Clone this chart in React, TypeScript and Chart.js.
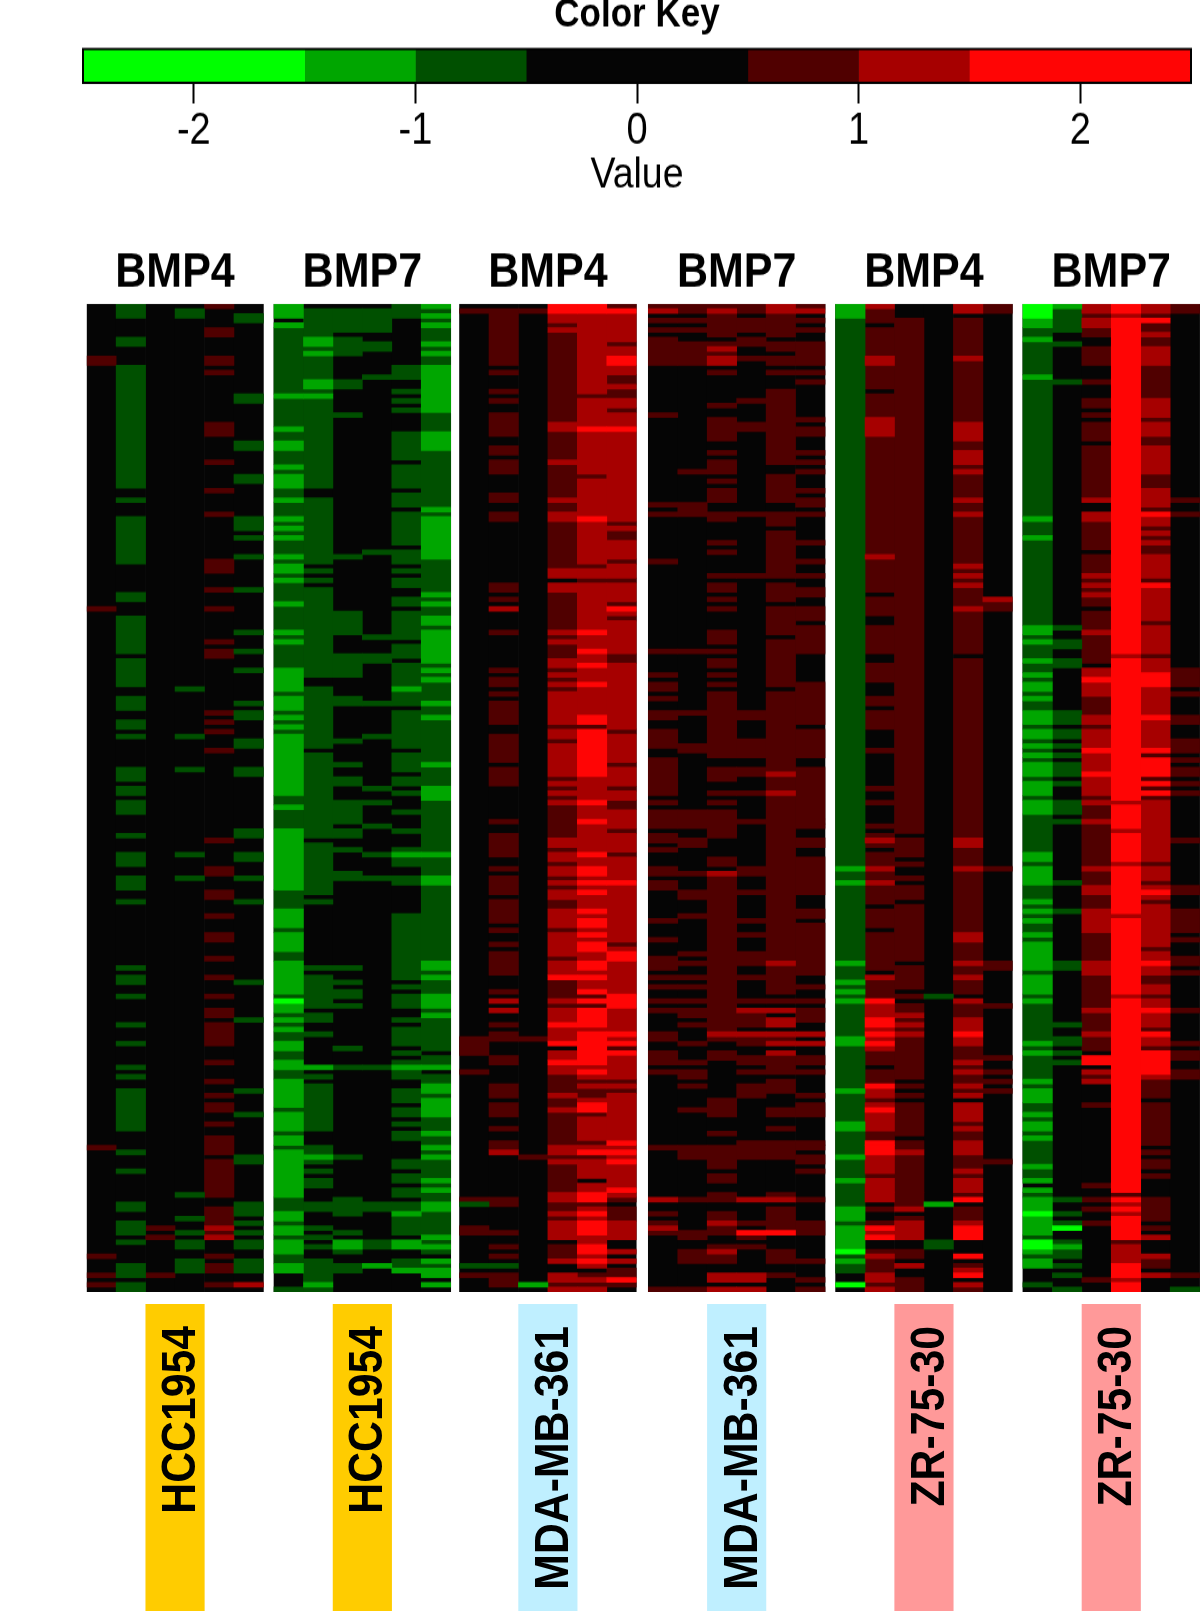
import React, { useEffect, useRef } from "react";
import { Chart, registerables } from "chart.js";

Chart.register(...registerables);

// ---- colour key ----
const keyEdges = [-2.5, -1.5, -1, -0.5, 0.5, 1, 1.5, 2.5];
const keyColors = ["#00FF00", "#00A600", "#005000", "#050505", "#500000", "#A60000", "#FF0505"];
const keyTicks = [-2, -1, 0, 1, 2];
// a level is the index distance from the black bin of the colour key
const levels = [-3, -2, -1, 0, 1, 2, 3];

// ---- panel labels ----
const treatments = ["BMP4", "BMP7", "BMP4", "BMP7", "BMP4", "BMP7"];
const cellLines = ["HCC1954", "HCC1954", "MDA-MB-361", "MDA-MB-361", "ZR-75-30", "ZR-75-30"];
const cellLineColors = ["#FFCC00", "#FFCC00", "#BFEFFF", "#BFEFFF", "#FF9999", "#FF9999"];
const ROWS = 209;

// ---- heat map: each column lists start row, end row, level (rows not listed are black) ----
const hccBmp4 = [
  [11,13,1, 64,65,1, 178,179,1, 201,202,1, 205,206,1, 207,208,1],
  [0,3,-1, 7,9,-1, 13,39,-1, 41,42,-1, 45,55,-1, 61,63,-1, 66,74,-1, 75,81,-1, 83,86,-1, 88,90,-1, 91,92,-1, 98,101,-1, 102,104,-1, 105,108,-1, 112,113,-1, 116,119,-1, 121,124,-1, 126,127,-1, 140,141,-1, 142,144,-1, 146,147,-1, 152,153,-1, 156,157,-1, 161,162,-1, 163,164,-1, 166,175,-1, 179,180,-1, 183,184,-1, 190,192,-1, 194,197,-1, 198,199,-1, 203,206,-1, 207,209,-1],
  [195,196,1, 197,198,1, 205,206,1],
  [1,3,-1, 81,82,-1, 91,92,-1, 98,99,-1, 116,117,-1, 121,122,-1, 188,189,-1, 193,194,-1, 196,197,-1, 198,200,-1, 202,205,-1],
  [0,1,1, 5,7,1, 11,13,1, 14,15,1, 25,28,1, 33,34,1, 39,40,1, 44,45,1, 54,57,1, 60,61,1, 64,65,1, 71,72,1, 73,75,1, 86,87,1, 88,89,1, 90,91,1, 94,95,1, 113,114,1, 119,121,1, 124,126,1, 129,130,1, 133,135,1, 138,139,1, 142,143,1, 146,147,1, 149,151,1, 152,157,1, 160,161,1, 164,165,1, 167,168,1, 169,171,1, 173,174,1, 176,180,1, 181,189,1, 191,195,1, 195,196,2, 196,197,1, 197,198,2, 201,202,1, 203,205,1, 207,208,1],
  [2,4,-1, 19,21,-1, 29,31,-1, 36,38,-1, 45,48,-1, 49,50,-1, 53,54,-1, 60,61,-1, 69,70,-1, 73,74,-1, 77,78,-1, 84,85,-1, 86,88,-1, 92,94,-1, 98,100,-1, 111,113,-1, 116,118,-1, 121,122,-1, 126,127,-1, 143,144,-1, 151,152,-1, 166,167,-1, 171,172,-1, 180,182,-1, 190,193,-1, 194,195,-1, 196,197,-1, 198,200,-1, 202,205,-1, 207,208,2],
];
const hccBmp7 = [
  [0,3,-2, 4,5,-2, 5,19,-1, 19,20,-2, 20,26,-1, 26,27,-2, 27,29,-1, 29,31,-2, 31,34,-1, 34,35,-2, 35,36,-1, 36,39,-2, 39,41,-1, 41,42,-2, 42,45,-1, 45,46,-2, 46,47,-1, 47,48,-2, 48,49,-1, 49,50,-2, 50,53,-1, 53,54,-2, 54,55,-1, 55,57,-2, 57,58,-1, 58,59,-2, 59,63,-1, 63,64,-2, 64,69,-1, 69,70,-2, 70,71,-1, 71,72,-2, 72,77,-1, 77,82,-2, 82,83,-1, 83,86,-2, 86,87,-1, 87,88,-2, 88,89,-1, 89,90,-2, 90,91,-1, 91,104,-2, 104,106,-1, 106,107,-2, 107,111,-1, 111,124,-2, 124,128,-1, 128,132,-2, 132,133,-1, 133,137,-2, 137,139,-1, 139,146,-2, 146,147,-1, 147,148,-3, 148,150,-2, 150,151,-1, 151,152,-2, 152,153,-1, 153,154,-2, 154,156,-1, 156,158,-2, 158,160,-1, 160,162,-2, 162,164,-1, 164,170,-2, 170,171,-1, 171,175,-2, 175,176,-1, 176,178,-2, 178,179,-1, 179,189,-2, 189,192,-1, 192,194,-2, 194,195,-1, 195,197,-2, 197,198,-1, 198,201,-2, 201,203,-1, 203,205,-2, 208,209,-1],
  [1,7,-1, 7,9,-2, 9,10,-1, 10,11,-2, 11,16,-1, 16,18,-2, 18,19,-1, 19,20,-2, 20,39,-1, 41,55,-1, 56,57,-1, 58,59,-1, 60,79,-1, 81,94,-1, 95,113,-1, 114,125,-1, 126,127,-1, 140,141,-1, 142,149,-1, 150,152,-1, 154,155,-1, 161,162,-2, 163,164,-1, 165,175,-1, 178,180,-1, 180,181,-2, 181,182,-1, 183,184,-1, 185,187,-1, 190,192,-1, 195,196,-1, 197,198,-1, 199,200,-1, 202,207,-1, 207,208,-2, 208,209,-1],
  [1,6,-1, 7,11,-1, 16,18,-1, 23,24,-1, 53,54,-1, 65,70,-1, 74,79,-1, 83,85,-1, 92,93,-1, 97,98,-1, 100,102,-1, 105,110,-1, 111,113,-1, 115,116,-1, 120,122,-1, 140,141,-1, 143,144,-1, 145,147,-1, 148,149,-1, 157,158,-1, 161,162,-1, 180,181,-1, 189,193,-1, 196,197,-1, 198,200,-2, 200,201,-1, 203,205,-1],
  [1,6,-1, 8,10,-1, 15,16,-1, 52,53,-1, 70,71,-1, 74,76,-1, 84,85,-1, 91,92,-1, 102,103,-1, 105,106,-1, 110,111,-1, 116,117,-1, 121,122,-1, 161,162,-1, 190,192,-1, 198,200,-1, 203,204,-2],
  [0,3,-1, 13,16,-1, 18,19,-1, 20,21,-1, 22,23,-1, 27,33,-1, 34,39,-1, 40,43,-1, 44,51,-1, 52,55,-1, 56,57,-1, 58,60,-1, 62,64,-1, 65,71,-1, 72,75,-1, 76,81,-1, 81,82,-2, 82,85,-1, 86,94,-1, 95,99,-1, 100,102,-1, 103,104,-1, 107,108,-1, 111,112,-1, 115,116,-1, 116,117,-2, 117,119,-1, 121,123,-1, 129,143,-1, 144,145,-1, 146,149,-1, 151,152,-1, 153,157,-1, 158,159,-1, 160,161,-1, 161,162,-2, 162,164,-1, 166,169,-1, 170,172,-1, 173,174,-1, 175,177,-1, 181,183,-1, 184,186,-1, 187,189,-1, 190,192,-1, 192,193,-2, 193,197,-1, 198,200,-2, 202,204,-1, 204,205,-2],
  [0,1,-2, 1,2,-1, 2,3,-2, 3,4,-1, 4,5,-2, 5,8,-1, 8,9,-2, 9,10,-1, 10,11,-2, 11,13,-1, 13,23,-2, 23,27,-1, 27,31,-2, 31,43,-1, 43,44,-2, 44,45,-1, 45,54,-2, 54,61,-1, 61,62,-2, 62,63,-1, 63,64,-2, 64,66,-1, 66,68,-2, 68,69,-1, 69,76,-2, 76,77,-1, 77,78,-2, 78,79,-1, 79,80,-2, 80,84,-1, 84,85,-2, 85,87,-1, 87,88,-2, 88,97,-1, 97,98,-2, 98,102,-1, 102,105,-2, 105,116,-1, 116,117,-2, 117,121,-1, 121,123,-2, 123,139,-1, 139,141,-2, 141,142,-1, 142,143,-2, 143,146,-1, 146,149,-2, 149,150,-1, 150,151,-2, 151,158,-1, 159,161,-1, 161,162,-2, 163,165,-1, 165,167,-2, 167,168,-1, 168,172,-2, 172,175,-1, 175,176,-2, 176,178,-1, 178,179,-2, 179,180,-1, 180,181,-2, 181,185,-1, 185,186,-2, 186,187,-1, 187,188,-2, 188,190,-1, 190,192,-2, 192,197,-1, 197,198,-2, 198,199,-1, 199,200,-2, 200,201,-1, 202,203,-2, 203,204,-1, 204,206,-2, 207,208,-2],
];
const mdaBmp4 = [
  [1,2,1, 155,157,1, 157,159,1, 162,163,1, 189,190,1, 190,191,-1, 195,197,1, 203,204,-1, 205,206,1],
  [1,13,1, 14,15,1, 18,19,1, 20,21,1, 23,28,1, 30,32,1, 33,36,1, 40,42,1, 44,46,1, 59,61,1, 62,63,1, 64,65,2, 69,70,1, 77,78,1, 79,81,1, 82,83,1, 84,89,1, 91,97,1, 98,102,1, 109,110,1, 112,117,1, 119,120,1, 121,125,1, 126,131,1, 132,133,1, 135,136,1, 137,142,1, 145,146,1, 147,148,2, 149,150,2, 152,153,1, 154,156,1, 159,161,1, 165,168,1, 169,172,1, 174,175,1, 177,179,1, 179,180,2, 189,191,1, 196,197,1, 199,200,1, 201,202,1, 203,204,-1, 205,208,1],
  [1,2,1, 155,156,1, 180,181,1, 207,208,-2],
  [0,2,3, 2,4,2, 4,5,1, 5,6,2, 6,25,1, 25,27,2, 27,33,1, 33,34,2, 34,41,1, 41,42,2, 42,44,1, 44,46,2, 46,56,1, 56,58,2, 59,61,2, 61,69,1, 69,70,2, 70,71,1, 71,72,2, 72,75,1, 75,77,2, 77,78,1, 78,79,2, 79,80,1, 80,81,2, 81,82,1, 82,89,2, 89,90,1, 90,92,2, 92,93,1, 93,100,2, 100,101,1, 101,102,2, 102,103,1, 103,104,2, 104,105,1, 105,106,2, 106,113,1, 113,115,2, 115,116,1, 116,118,2, 118,119,1, 119,121,2, 121,122,1, 122,123,2, 123,124,1, 124,126,2, 126,128,1, 128,132,2, 132,133,1, 133,138,2, 138,139,1, 139,142,2, 142,143,3, 143,147,1, 147,148,2, 148,149,1, 149,152,2, 152,153,3, 153,156,2, 156,157,3, 158,160,2, 160,161,3, 161,163,2, 163,167,1, 167,168,2, 168,170,1, 170,171,2, 171,178,1, 178,180,2, 180,181,1, 181,182,2, 182,188,1, 188,190,2, 190,192,1, 192,193,2, 193,194,1, 194,198,2, 199,202,1, 202,203,2, 205,207,2, 207,208,1, 208,209,2],
  [0,2,3, 2,19,2, 19,20,1, 20,26,2, 26,27,3, 27,36,2, 36,37,1, 37,45,2, 45,46,3, 46,55,2, 55,56,1, 56,58,2, 58,59,1, 59,69,2, 69,70,3, 70,73,2, 73,74,3, 74,76,2, 76,77,3, 77,80,2, 80,81,3, 81,87,2, 87,89,3, 89,90,1, 90,100,3, 100,105,2, 105,106,3, 106,109,2, 109,110,3, 110,116,2, 116,117,3, 117,119,2, 119,121,3, 121,122,2, 122,123,3, 123,124,2, 124,125,3, 125,128,2, 128,129,3, 129,130,2, 130,132,3, 132,133,2, 133,134,3, 134,135,2, 135,137,3, 137,139,2, 139,141,3, 141,142,2, 142,143,3, 143,145,2, 145,146,3, 146,147,1, 147,148,3, 148,149,1, 149,153,3, 153,154,2, 154,161,3, 161,162,2, 162,163,3, 163,164,2, 164,165,1, 165,166,2, 166,168,1, 168,169,2, 169,171,3, 171,172,1, 172,177,2, 177,178,1, 178,179,2, 179,180,3, 180,181,1, 181,185,2, 186,188,2, 188,190,3, 190,191,1, 191,192,2, 192,193,3, 193,194,2, 194,197,3, 197,199,2, 199,201,3, 201,202,2, 202,203,3, 203,204,2, 205,206,1, 206,207,2, 207,208,1, 208,209,2],
  [0,1,1, 1,2,3, 2,8,2, 8,9,1, 9,11,2, 11,13,3, 13,15,2, 15,17,1, 17,18,2, 18,20,1, 20,22,2, 22,23,1, 23,26,2, 26,27,3, 27,46,2, 46,47,1, 47,48,2, 48,50,1, 50,54,2, 54,55,1, 55,58,2, 58,59,1, 59,63,2, 63,64,1, 64,65,3, 65,66,2, 66,67,1, 67,74,2, 74,76,1, 76,90,2, 90,91,1, 91,97,2, 97,98,1, 98,102,2, 102,103,1, 103,105,2, 105,107,1, 107,111,2, 111,112,1, 112,116,2, 116,117,1, 117,122,2, 122,123,3, 123,135,2, 135,136,1, 136,137,2, 137,139,3, 139,146,2, 146,149,3, 149,154,2, 154,155,3, 155,156,2, 156,157,3, 157,158,1, 158,159,3, 159,164,2, 164,165,1, 165,166,2, 166,167,1, 167,177,2, 177,178,3, 178,179,2, 179,180,3, 180,181,2, 181,182,3, 182,187,2, 187,188,3, 188,189,2, 189,190,1, 191,194,1, 194,198,2, 200,201,2, 202,203,2, 204,206,1, 206,207,3, 207,208,1],
];
const mdaBmp7 = [
  [0,1,1, 1,2,2, 3,4,1, 5,6,1, 7,13,1, 23,24,1, 42,43,1, 44,45,1, 54,55,1, 73,74,1, 78,79,1, 80,82,1, 83,84,1, 86,88,1, 90,94,1, 96,104,1, 105,106,1, 107,111,1, 112,114,1, 115,116,1, 119,121,1, 122,124,1, 130,131,1, 134,135,1, 138,141,1, 142,143,1, 144,145,1, 147,148,1, 149,150,1, 154,156,1, 158,161,1, 162,163,1, 178,179,1, 189,190,2, 192,193,1, 194,195,1, 195,196,2, 196,197,1, 208,209,1],
  [0,2,1, 3,4,1, 5,6,1, 8,13,1, 35,36,1, 42,45,1, 73,74,1, 86,87,1, 93,95,1, 107,111,1, 113,115,1, 120,121,1, 124,126,1, 129,130,1, 137,138,1, 139,140,1, 142,143,1, 144,145,1, 147,148,1, 149,151,1, 152,153,1, 156,157,1, 160,161,1, 162,164,1, 165,166,1, 170,171,1, 178,181,1, 189,190,1, 196,198,1, 200,203,1, 208,209,1],
  [0,1,1, 1,2,2, 2,7,1, 8,9,1, 9,10,2, 10,11,1, 11,13,2, 14,15,1, 21,22,1, 24,29,1, 31,32,1, 33,36,1, 37,38,1, 39,42,1, 44,46,1, 50,51,1, 52,53,1, 57,58,1, 59,61,1, 62,63,1, 64,65,1, 69,72,1, 73,74,1, 75,77,1, 78,79,1, 80,81,1, 82,96,1, 98,101,1, 103,104,1, 105,106,1, 107,113,1, 117,119,1, 120,121,2, 121,154,1, 154,155,2, 155,156,1, 158,160,1, 168,172,1, 175,176,1, 178,183,1, 184,186,1, 188,190,1, 192,194,1, 194,195,2, 195,197,1, 199,200,1, 200,201,2, 201,203,1, 205,207,2, 208,209,2],
  [0,2,1, 3,6,1, 7,9,1, 11,12,1, 20,21,1, 25,27,1, 44,45,1, 57,58,1, 86,88,1, 92,96,1, 98,100,1, 103,104,1, 109,110,1, 119,121,1, 124,125,1, 130,131,1, 133,134,1, 137,140,1, 142,143,1, 147,148,1, 149,150,2, 150,153,1, 154,155,2, 155,157,1, 159,161,1, 162,163,1, 165,168,1, 177,181,1, 189,190,2, 194,195,1, 196,197,3, 197,198,1, 199,200,1, 205,207,2, 208,209,2],
  [0,2,2, 2,7,1, 8,10,1, 11,13,1, 14,15,1, 18,34,1, 36,42,1, 44,47,1, 48,58,1, 59,63,1, 64,70,1, 71,81,1, 82,99,1, 99,100,2, 100,103,1, 103,104,2, 104,139,1, 139,140,2, 140,146,1, 147,148,1, 149,150,2, 151,153,2, 154,155,2, 155,156,1, 156,157,2, 158,159,2, 159,163,1, 164,167,1, 170,172,1, 174,175,1, 177,178,1, 178,181,1, 188,189,1, 189,190,2, 191,196,1, 196,197,3, 200,203,1, 205,206,1],
  [0,1,1, 1,2,2, 3,4,1, 5,6,1, 8,13,1, 14,15,1, 16,17,1, 24,25,1, 26,28,1, 31,32,1, 33,34,1, 35,36,1, 39,40,1, 41,43,1, 44,45,1, 50,51,1, 54,55,1, 57,58,1, 60,62,1, 64,67,1, 68,74,1, 80,89,1, 90,96,1, 98,109,1, 109,110,1, 110,111,1, 113,115,1, 117,125,1, 128,130,1, 131,142,1, 144,145,1, 147,148,1, 149,152,1, 154,155,2, 156,157,2, 159,161,1, 162,163,1, 167,168,1, 169,172,1, 177,178,1, 178,179,1, 180,182,1, 183,184,1, 189,190,1, 194,197,1, 202,203,1, 206,207,1, 208,209,1],
];
const zrBmp4 = [
  [0,3,-2, 3,119,-1, 119,120,-2, 120,122,-1, 122,123,-2, 123,139,-1, 139,140,-2, 140,143,-1, 143,144,-2, 144,145,-1, 145,146,-2, 146,147,-1, 147,148,-2, 148,155,-1, 155,157,-2, 157,166,-1, 166,167,-2, 167,173,-1, 173,175,-2, 175,180,-1, 180,181,-2, 181,185,-1, 185,186,-2, 186,191,-1, 191,194,-2, 194,195,-1, 195,200,-2, 200,201,-3, 201,202,-1, 202,203,-2, 203,205,-1, 207,208,-3],
  [0,1,2, 1,4,1, 5,11,1, 11,13,2, 13,18,1, 19,24,1, 24,28,2, 28,53,1, 53,54,2, 54,61,1, 62,66,1, 68,74,1, 76,80,1, 83,85,1, 86,90,1, 94,95,1, 102,103,1, 105,106,1, 110,111,1, 112,113,1, 113,114,2, 114,115,1, 116,119,1, 119,120,2, 120,122,1, 122,123,2, 123,127,1, 128,132,1, 133,141,1, 142,143,2, 143,147,1, 147,148,3, 148,151,2, 151,153,3, 153,154,2, 154,155,3, 155,156,2, 156,157,3, 157,158,2, 158,161,1, 162,165,1, 165,166,3, 166,168,2, 168,169,1, 169,170,2, 170,171,3, 171,175,2, 175,177,1, 177,178,3, 178,180,3, 180,184,2, 184,185,1, 185,188,2, 188,190,2, 191,192,1, 194,195,1, 195,196,3, 196,197,2, 197,198,3, 200,201,1, 201,202,2, 202,205,1, 205,207,2, 207,208,1, 208,209,2],
  [3,112,1, 113,117,1, 118,119,1, 121,122,1, 123,126,1, 127,139,1, 140,145,1, 146,147,1, 148,150,1, 150,151,2, 151,152,1, 152,153,2, 153,154,1, 154,155,2, 155,164,1, 165,166,1, 167,168,1, 169,176,1, 177,179,1, 179,180,2, 180,188,1, 188,191,1, 191,192,2, 193,194,1, 194,198,2, 200,202,1, 203,204,2, 206,209,1],
  [146,147,-1, 190,191,-2, 198,200,-1],
  [0,2,2, 3,11,1, 11,12,2, 12,25,1, 25,29,2, 29,31,1, 31,34,2, 34,35,1, 35,36,2, 36,41,1, 41,42,2, 42,44,1, 44,45,2, 45,55,1, 55,56,2, 56,57,1, 57,58,2, 58,59,1, 59,60,2, 60,64,1, 64,65,2, 65,74,1, 75,113,1, 113,115,2, 115,119,1, 119,120,2, 120,133,1, 133,135,2, 135,139,1, 139,140,2, 140,142,1, 142,143,2, 143,146,1, 147,148,2, 148,151,1, 151,154,2, 154,155,3, 155,157,2, 157,160,1, 160,161,2, 161,162,1, 162,163,2, 163,165,1, 165,166,2, 166,167,1, 167,168,2, 169,173,2, 173,174,1, 174,175,2, 175,177,1, 177,180,2, 180,183,1, 183,184,2, 184,185,1, 185,188,2, 188,189,1, 189,190,3, 191,194,1, 194,195,2, 195,198,3, 201,202,3, 203,204,1, 204,205,2, 205,206,3, 207,208,2, 208,209,1],
  [0,2,1, 62,63,2, 63,65,1, 119,120,1, 139,141,1, 148,149,1, 159,160,1, 162,163,1, 164,165,1, 166,167,1, 181,182,1],
];
const zrBmp7 = [
  [0,3,-3, 3,5,-2, 5,7,-1, 7,8,-2, 8,15,-1, 15,16,-2, 16,45,-1, 45,46,-2, 46,49,-1, 49,50,-2, 50,68,-1, 68,70,-2, 70,71,-1, 71,72,-2, 72,75,-1, 75,76,-2, 76,78,-1, 78,79,-2, 79,80,-1, 80,82,-2, 82,83,-1, 83,84,-2, 84,86,-1, 86,89,-2, 89,90,-1, 90,92,-2, 92,93,-1, 93,94,-2, 94,95,-1, 95,96,-2, 96,97,-1, 97,100,-2, 100,101,-1, 101,104,-2, 104,105,-1, 105,108,-2, 108,116,-1, 116,118,-2, 118,119,-1, 119,123,-2, 123,126,-1, 126,127,-2, 127,128,-1, 128,129,-2, 129,130,-1, 130,131,-2, 131,133,-1, 133,134,-2, 134,135,-1, 135,141,-2, 141,142,-1, 142,146,-2, 146,147,-1, 147,148,-2, 148,156,-1, 156,157,-2, 157,158,-1, 158,159,-2, 159,164,-1, 164,165,-2, 165,166,-1, 166,169,-2, 169,171,-1, 171,172,-2, 172,173,-1, 173,175,-2, 175,176,-1, 176,177,-2, 177,182,-1, 182,183,-2, 183,185,-1, 185,186,-2, 187,188,-2, 188,189,-1, 189,192,-2, 192,193,-3, 193,197,-2, 197,198,-1, 198,200,-3, 200,201,-2, 201,202,-1, 202,204,-2, 207,208,-1],
  [0,1,-2, 1,6,-1, 8,9,-1, 16,17,-1, 68,69,-1, 71,73,-1, 75,77,-1, 86,89,-1, 90,92,-1, 93,94,-1, 95,96,-1, 97,100,-1, 101,102,-1, 105,108,-1, 109,110,-1, 122,123,-1, 128,129,-1, 139,141,-1, 152,153,-1, 155,157,-1, 158,159,-1, 160,161,-1, 189,190,-1, 192,193,-1, 194,195,-1, 195,196,-3, 198,199,-1, 199,200,-2, 200,202,-1, 203,204,-1, 205,206,-1, 208,209,-1],
  [0,2,2, 2,3,1, 3,5,2, 5,7,1, 9,13,1, 16,17,1, 20,22,1, 23,24,1, 25,29,1, 30,41,1, 41,42,2, 44,46,2, 46,52,1, 53,57,1, 57,58,2, 58,59,1, 59,60,2, 60,61,1, 61,62,2, 62,64,1, 65,69,1, 69,70,2, 70,76,1, 77,79,2, 79,80,3, 80,83,2, 83,87,1, 87,89,2, 89,90,1, 90,94,2, 94,95,3, 95,99,2, 99,100,3, 100,104,2, 104,105,1, 105,106,2, 106,109,1, 109,110,2, 110,119,1, 119,120,2, 120,123,1, 123,125,2, 125,128,1, 128,133,2, 133,139,1, 139,142,2, 142,149,1, 149,150,2, 150,154,1, 154,155,2, 155,158,1, 159,161,3, 162,163,2, 163,164,1, 164,165,2, 169,170,1, 186,187,1, 189,190,1, 191,192,1, 194,195,1, 206,207,1],
  [0,2,3, 2,3,2, 3,74,3, 74,75,2, 75,105,3, 105,106,2, 106,111,3, 111,112,2, 112,118,3, 118,119,2, 119,129,3, 129,130,2, 130,146,3, 146,147,2, 147,188,3, 188,189,1, 189,190,3, 190,191,2, 191,192,3, 192,193,2, 193,198,3, 198,199,1, 199,203,2, 203,206,3, 206,207,2, 207,209,3],
  [0,2,2, 2,3,1, 3,4,3, 4,6,1, 6,7,2, 7,9,1, 9,13,2, 13,20,1, 20,24,2, 24,25,1, 25,28,2, 28,30,1, 30,36,2, 36,39,1, 39,43,2, 43,44,1, 44,45,3, 45,47,2, 47,48,1, 48,49,2, 49,50,1, 50,51,2, 51,53,1, 53,58,2, 58,59,1, 59,60,3, 60,67,2, 67,68,1, 68,74,2, 74,75,1, 75,78,2, 78,81,3, 81,87,2, 87,88,3, 88,94,2, 94,95,3, 95,96,1, 96,100,3, 100,101,1, 101,102,3, 102,103,1, 103,104,3, 104,105,1, 105,118,2, 118,119,1, 119,122,2, 122,123,1, 123,124,2, 124,125,3, 125,126,2, 126,127,1, 127,136,2, 136,137,1, 137,139,2, 139,140,3, 140,142,2, 142,144,1, 144,146,2, 146,147,1, 147,149,2, 149,150,3, 150,153,2, 153,154,1, 154,155,3, 155,157,2, 157,158,1, 158,163,3, 163,164,2, 164,168,1, 169,178,1, 179,180,1, 181,183,1, 184,185,1, 189,194,1, 195,196,1, 197,198,2, 201,202,2, 202,204,1, 205,206,2],
  [0,2,1, 41,42,1, 44,45,1, 77,81,1, 82,83,1, 87,89,1, 92,95,1, 96,97,1, 98,100,1, 101,102,1, 103,104,1, 113,114,1, 123,125,1, 128,133,1, 134,135,1, 138,140,1, 141,142,1, 149,150,1, 156,157,1, 158,160,1, 162,164,1, 205,206,1, 208,209,-1],
];
const panels = [hccBmp4, hccBmp7, mdaBmp4, mdaBmp7, zrBmp4, zrBmp7];

// ---- layout (not data) ----
const STRETCH = 1.15; // the reference's lettering and rows are taller than wide
const panelStarts = [0, 6.36, 12.66, 19.07, 25.43, 31.79];
const CELL_PX = 29.45;
const LEFT_PX = 86.7;
const X_MAX = (1200 - LEFT_PX) / CELL_PX;
const FONT = "'Liberation Sans', Arial, sans-serif";
const centers = panelStarts.map((s) => s + 3);

const xGeometry = { type: "linear", min: 0, max: X_MAX, offset: false };

function heatDatasets() {
  const all = panels.flatMap((cols, p) => cols.map((c, i) => ({ x: panelStarts[p] + i + 0.5, list: c })));
  const base = { barThickness: CELL_PX, grouped: false, borderWidth: 0 };
  const blackRows = [0, ROWS];
  const out: any[] = [
    { ...base, order: 10, backgroundColor: keyColors[3], data: all.map((c) => ({ x: c.x, y: blackRows })) },
  ];
  levels.forEach((lv, idx) => {
    if (lv === 0) return;
    const data: any[] = [];
    all.forEach((c) => {
      for (let k = 0; k < c.list.length; k += 3) {
        if (c.list[k + 2] === lv) data.push({ x: c.x, y: [c.list[k], c.list[k + 1]] });
      }
    });
    out.push({ ...base, order: 4 - Math.abs(lv), backgroundColor: keyColors[idx], data });
  });
  return out;
}

const frameKey = {
  id: "frameKey",
  afterDatasetsDraw(chart: any) {
    const { ctx, chartArea: a } = chart;
    ctx.save();
    ctx.strokeStyle = "#000";
    ctx.lineWidth = 2;
    ctx.strokeRect(a.left, a.top, a.right - a.left, a.bottom - a.top);
    ctx.restore();
  },
};

const bandText = {
  id: "bandText",
  afterDatasetsDraw(chart: any) {
    const { ctx, scales } = chart;
    ctx.save();
    ctx.fillStyle = "#000";
    ctx.font = `bold 47.5px ${FONT}`;
    ctx.textAlign = "right";
    ctx.textBaseline = "alphabetic";
    cellLines.forEach((name, i) => {
      ctx.save();
      ctx.translate(scales.x.getPixelForValue(centers[i]) + 20, 22);
      ctx.rotate(-Math.PI / 2);
      ctx.scale(0.9, 1);
      ctx.fillText(name, 0, 0);
      ctx.restore();
    });
    ctx.restore();
  },
};

export default function App() {
  const keyRef = useRef<HTMLCanvasElement>(null);
  const heatRef = useRef<HTMLCanvasElement>(null);
  const bandRef = useRef<HTMLCanvasElement>(null);

  useEffect(() => {
    document.body.style.margin = "0";
    document.body.style.background = "#fff";

    const keyChart = new Chart(keyRef.current as any, {
      type: "bar",
      data: {
        labels: ["key"],
        datasets: keyColors.map((c, i) => ({
          data: [[keyEdges[i], keyEdges[i + 1]]],
          backgroundColor: c,
          grouped: false,
          barPercentage: 1,
          categoryPercentage: 1,
          borderWidth: 0,
        })) as any,
      },
      options: {
        indexAxis: "y",
        animation: false,
        responsive: false,
        devicePixelRatio: 1,
        layout: { autoPadding: false, padding: { left: 83, right: 9, top: 0, bottom: 0 } },
        plugins: {
          legend: { display: false },
          tooltip: { enabled: false },
          title: {
            display: true,
            text: "Color Key",
            color: "#000",
            font: { family: FONT, size: 35, weight: "bold", lineHeight: 1.2 },
            padding: { top: -8, bottom: 8.6 },
          },
        },
        scales: {
          y: { display: false },
          x: {
            type: "linear",
            min: -2.5,
            max: 2.5,
            afterBuildTicks: (s: any) => {
              s.ticks = keyTicks.map((v) => ({ value: v }));
            },
            afterFit: (s: any) => {
              s.height = 113;
            },
            grid: { drawOnChartArea: false, drawTicks: true, tickLength: 18, tickColor: "#000", tickWidth: 2 },
            border: { display: false },
            ticks: {
              color: "#000",
              font: { family: FONT, size: 38 },
              padding: 2,
              maxRotation: 0,
              autoSkip: false,
              callback: (v: any) => String(v),
            },
            title: {
              display: true,
              text: "Value",
              color: "#000",
              font: { family: FONT, size: 37.5 },
              padding: { top: 0, bottom: 10 },
            },
          },
        },
      } as any,
      plugins: [frameKey],
    });

    const heatChart = new Chart(heatRef.current as any, {
      type: "bar",
      data: { datasets: heatDatasets() },
      options: {
        animation: false,
        responsive: false,
        devicePixelRatio: 1,
        layout: { autoPadding: false, padding: { left: LEFT_PX, right: 0, top: 0, bottom: 0 } },
        plugins: { legend: { display: false }, tooltip: { enabled: false } },
        scales: {
          y: { type: "linear", display: false, reverse: true, min: 0, max: ROWS },
          x: {
            ...xGeometry,
            position: "top",
            afterBuildTicks: (s: any) => {
              s.ticks = centers.map((v) => ({ value: v }));
            },
            afterFit: (s: any) => {
              s.height = 73;
            },
            grid: { display: false, drawTicks: false },
            border: { display: false },
            ticks: {
              color: "#000",
              font: { family: FONT, size: 43, weight: "bold" },
              padding: 1.5,
              maxRotation: 0,
              autoSkip: false,
              callback: (_v: any, i: number) => treatments[i],
            },
          },
        },
      } as any,
    });

    const bandChart = new Chart(bandRef.current as any, {
      type: "bar",
      data: {
        datasets: [
          {
            data: centers.map((c) => ({ x: c, y: [0, 1] })),
            backgroundColor: cellLineColors,
            barThickness: 58.5,
            borderWidth: 0,
          },
        ] as any,
      },
      options: {
        animation: false,
        responsive: false,
        devicePixelRatio: 1,
        layout: { autoPadding: false, padding: { left: LEFT_PX, right: 0, top: 0, bottom: 0 } },
        plugins: { legend: { display: false }, tooltip: { enabled: false } },
        scales: {
          x: { ...xGeometry, display: false },
          y: { type: "linear", display: false, min: 0, max: 1 },
        },
      } as any,
      plugins: [bandText],
    });

    return () => {
      keyChart.destroy();
      heatChart.destroy();
      bandChart.destroy();
    };
  }, []);

  const stretched = (top: number): React.CSSProperties => ({
    position: "absolute",
    left: 0,
    top,
    transform: `scaleY(${STRETCH})`,
    transformOrigin: "top left",
  });

  return (
    <div style={{ position: "absolute", left: 0, top: 0, width: 1200, height: 1611, overflow: "hidden", background: "#fff" }}>
      <div style={stretched(0)}>
        <canvas ref={keyRef} width={1200} height={185} />
      </div>
      <div style={stretched(220)}>
        <canvas ref={heatRef} width={1200} height={932} />
      </div>
      <div style={{ position: "absolute", left: 0, top: 1304 }}>
        <canvas ref={bandRef} width={1200} height={307} />
      </div>
    </div>
  );
}
